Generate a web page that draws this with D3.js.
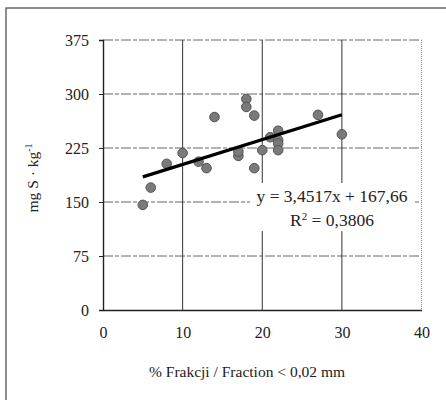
<!DOCTYPE html>
<html>
<head>
<meta charset="utf-8">
<script src="https://cdn.jsdelivr.net/npm/d3@7"></script>
<style>
  body { margin: 0; background: #fff; }
  svg text { font-family: "Liberation Serif", "Times New Roman", serif; fill: #222; }
</style>
</head>
<body>
<div id="chart"></div>
<script>
// % fraction < 0.02 mm vs mg S/kg
const fraction = [5, 6, 8, 10, 12, 13, 14, 17, 17, 18, 18, 19, 19, 20, 21, 22, 22, 22, 22, 27, 30];
const sulphur  = [146, 170, 203, 218, 206, 197, 268, 214, 220, 293, 282, 270, 197, 222, 240, 249, 236, 231, 222, 271, 244];
const xTicks = [0, 10, 20, 30, 40];
const yTicks = [0, 75, 150, 225, 300, 375];
const slope = 3.4517, intercept = 167.66;
const trendX = [5, 30];

const width = 446, height = 400;
const margin = { top: 40, right: 25, bottom: 90, left: 103 };

const svg = d3.select("#chart").append("svg")
    .attr("width", width)
    .attr("height", height);

// outer frame
svg.append("rect")
    .attr("x", 6).attr("y", 8)
    .attr("width", 500).attr("height", 500)
    .attr("fill", "none")
    .attr("stroke", "#444")
    .attr("stroke-width", 1.2);

const x = d3.scaleLinear().domain([0, 40]).range([margin.left, 421.5]);
const y = d3.scaleLinear().domain([0, 375]).range([310, 40]);

// horizontal gridlines
svg.append("g")
    .selectAll("line")
    .data(yTicks.filter(d => d > 0))
    .enter().append("line")
    .attr("x1", x(0)).attr("x2", x(40))
    .attr("y1", d => y(d)).attr("y2", d => y(d))
    .attr("stroke", "#666")
    .attr("stroke-dasharray", "10,2,4,2");

// vertical gridlines
svg.append("g")
    .selectAll("line")
    .data(xTicks.filter(d => d > 0 && d < 40))
    .enter().append("line")
    .attr("x1", d => x(d)).attr("x2", d => x(d))
    .attr("y1", y(375)).attr("y2", y(0))
    .attr("stroke", "#333")
    .attr("stroke-width", 1);

// right border dotted
svg.append("line")
    .attr("x1", x(40)).attr("x2", x(40))
    .attr("y1", y(375)).attr("y2", y(0))
    .attr("stroke", "#888")
    .attr("stroke-dasharray", "1,1");

// axes
svg.append("g")
    .attr("transform", `translate(0,${y(0)})`)
    .call(d3.axisBottom(x).tickValues(xTicks).tickSize(0).tickPadding(17))
    .call(g => g.select(".domain").attr("stroke", "#222").attr("stroke-width", 1.4))
    .call(g => g.selectAll("text").style("font-size", "16px"));

svg.append("g")
    .attr("transform", `translate(${x(0)},0)`)
    .call(d3.axisLeft(y).tickValues(yTicks).tickSize(4).tickPadding(10))
    .call(g => g.select(".domain").attr("stroke", "#222").attr("stroke-width", 1.4))
    .call(g => g.selectAll("line").attr("stroke", "#222"))
    .call(g => g.selectAll("text").style("font-size", "16px"));

// equation label background
const eqX = 332, eqY = 196;
svg.append("rect")
    .attr("x", 250).attr("y", 183)
    .attr("width", 165).attr("height", 48)
    .attr("fill", "#fff");

// points
svg.append("g")
    .selectAll("circle")
    .data(fraction.map((f, i) => ({ f, s: sulphur[i] })))
    .enter().append("circle")
    .attr("cx", d => x(d.f))
    .attr("cy", d => y(d.s))
    .attr("r", 4.8)
    .attr("fill", "#7a7a7a")
    .attr("stroke", "#555")
    .attr("stroke-width", 1);

// trend line
svg.append("line")
    .attr("x1", x(trendX[0])).attr("y1", y(slope * trendX[0] + intercept))
    .attr("x2", x(trendX[1])).attr("y2", y(slope * trendX[1] + intercept))
    .attr("stroke", "#000")
    .attr("stroke-width", 3.2);

svg.append("text")
    .attr("x", eqX).attr("y", eqY)
    .attr("dy", "0.35em")
    .attr("text-anchor", "middle")
    .style("font-size", "17.5px")
    .text("y = 3,4517x + 167,66");

const r2 = svg.append("text")
    .attr("x", eqX).attr("y", eqY + 24)
    .attr("dy", "0.35em")
    .attr("text-anchor", "middle")
    .style("font-size", "17.5px");
r2.append("tspan").text("R");
r2.append("tspan").attr("dy", "-6").style("font-size", "11px").text("2");
r2.append("tspan").attr("dy", "6").text(" = 0,3806");

// axis titles
svg.append("text")
    .attr("x", 247).attr("y", 372)
    .attr("dy", "0.35em")
    .attr("text-anchor", "middle")
    .style("font-size", "15.5px")
    .text("% Frakcji / Fraction < 0,02 mm");

const yl = svg.append("text")
    .attr("transform", "translate(33,178) rotate(-90)")
    .attr("dy", "0.35em")
    .attr("text-anchor", "middle")
    .style("font-size", "15.5px");
yl.append("tspan").text("mg S · kg");
yl.append("tspan").attr("dy", "-6").style("font-size", "10px").text("-1");
</script>
</body>
</html>
